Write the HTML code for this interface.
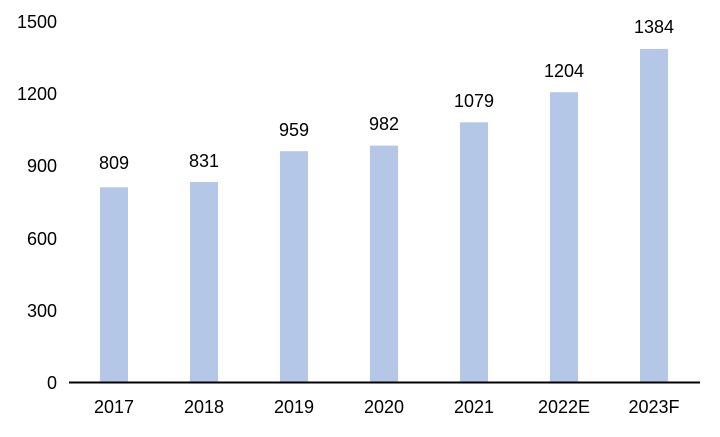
<!DOCTYPE html><html><head><style>body{margin:0;background:#fff}svg text{font-family:"Liberation Sans",sans-serif;font-size:18px;fill:#000}</style></head><body>
<svg width="720" height="432" viewBox="0 0 720 432">
<g text-anchor="end">
<text x="57" y="389">0</text><text x="57" y="317">300</text><text x="57" y="245">600</text><text x="57" y="172">900</text><text x="57" y="100">1200</text><text x="57" y="28">1500</text>
</g>
<g fill="#b4c7e7">
<rect x="100" y="187.3" width="28" height="194.7"/>
<rect x="190" y="182" width="28" height="200"/>
<rect x="280" y="151.2" width="28" height="230.8"/>
<rect x="370" y="145.6" width="28" height="236.4"/>
<rect x="460" y="122.3" width="28" height="259.7"/>
<rect x="550" y="92.2" width="28" height="289.8"/>
<rect x="640" y="48.9" width="28" height="333.1"/>
</g>
<line x1="69" y1="382.5" x2="700" y2="382.5" stroke="#000" stroke-width="2"/>
<g text-anchor="middle">
<text x="114" y="169">809</text><text x="204" y="167">831</text><text x="294" y="136">959</text><text x="384" y="130">982</text><text x="474" y="107">1079</text><text x="564" y="77">1204</text><text x="654" y="33">1384</text>
<text x="114" y="413">2017</text><text x="204" y="413">2018</text><text x="294" y="413">2019</text><text x="384" y="413">2020</text><text x="474" y="413">2021</text><text x="564" y="413">2022E</text><text x="654" y="413">2023F</text>
</g>
</svg></body></html>
